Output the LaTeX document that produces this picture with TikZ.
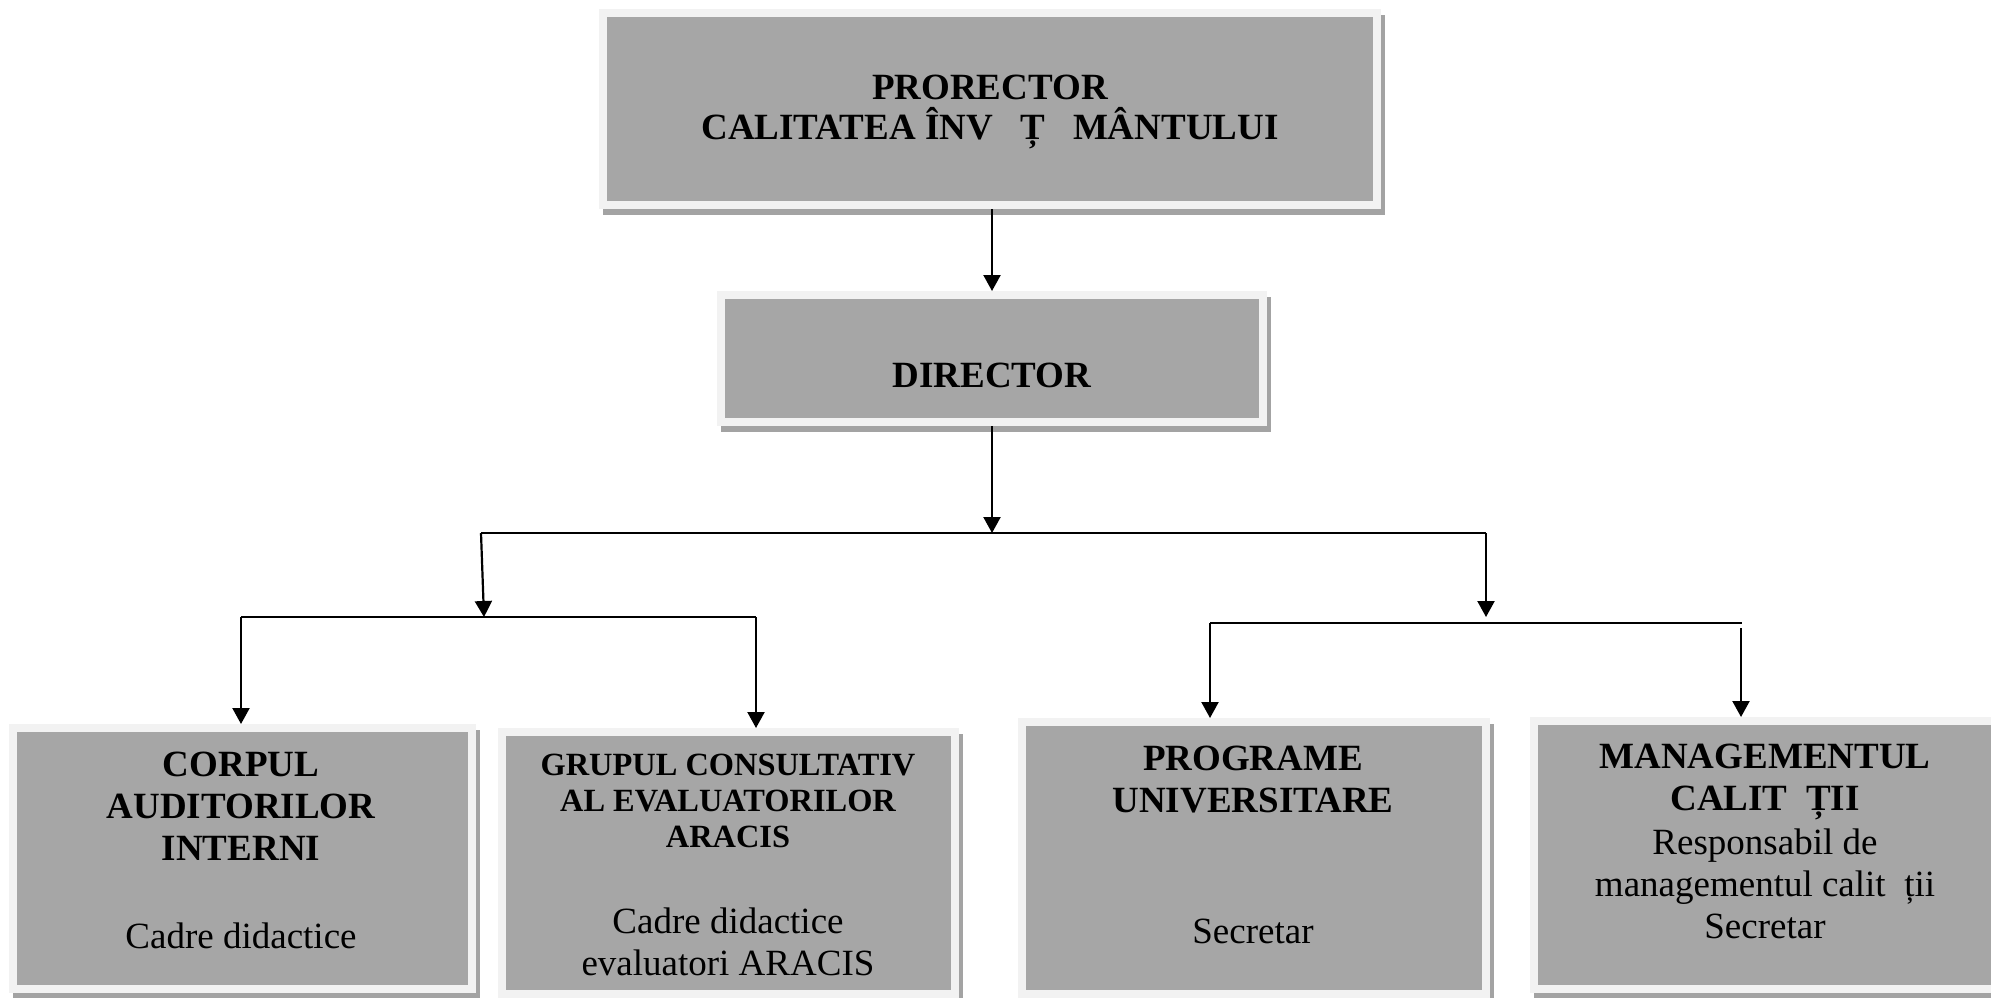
\documentclass[tikz,border=0pt]{standalone}
\usepackage{fontspec}
\setmainfont{Liberation Serif}
\usetikzlibrary{arrows.meta,shadows}

\definecolor{boxfill}{HTML}{A6A6A6}
\definecolor{boxframe}{HTML}{F2F2F2}
\definecolor{boxshade}{HTML}{A3A3A3}

\tikzset{
    unit/.style={rectangle, fill=boxfill, draw=boxframe, line width=4pt, inner sep=0pt,
        general shadow={fill=boxshade, draw=boxshade, line width=4pt, shadow xshift=2pt, shadow yshift=-3pt}},
    headtext/.style={font=\bfseries\fontsize{18.5}{21}\selectfont, align=center, inner sep=0pt},
    smallhead/.style={font=\bfseries\fontsize{16.2}{18}\selectfont, align=center, inner sep=0pt},
    bodytext/.style={font=\fontsize{18.5}{21}\selectfont, align=center, inner sep=0pt},
    link/.style={line width=1.1pt, -{Triangle[length=8pt,width=8.5pt]}},
    bar/.style={line width=1.1pt}
}

\begin{document}
\begin{tikzpicture}[x=0.5pt,y=0.5pt,yscale=-1,xscale=1]
    \useasboundingbox (0,0) rectangle (1991,997);
    \clip (0,0) rectangle (1991,997);

    % top of the chart
    \node[unit, minimum width=387pt, minimum height=96pt] (prorector) at (990,109) {};
    \node[headtext, font=\bfseries\fontsize{18.5}{20}\selectfont] (prorectortext) at (990,112) {PRORECTOR\\CALITATEA ÎNV\hspace{0.75em}Ț\hspace{0.75em}MÂNTULUI};

    \node[unit, minimum width=271pt, minimum height=63.5pt] (director) at (992,358.5) {};
    \node[headtext] (directortext) at (992,375) {DIRECTOR};

    % bottom row
    \node[unit, minimum width=229.5pt, minimum height=130.5pt] (corp) at (242.5,858.5) {};
    \node[headtext] (corphead) at (241,806) {CORPUL\\AUDITORILOR\\INTERNI};
    \node[bodytext] (corpbody) at (241,936) {Cadre didactice};

    \node[unit, minimum width=226.5pt, minimum height=131pt] (grup) at (728.5,863) {};
    \node[smallhead] (gruphead) at (728,801) {GRUPUL CONSULTATIV\\AL EVALUATORILOR\\ARACIS};
    \node[bodytext] (grupbody) at (728,942) {Cadre didactice\\evaluatori ARACIS};

    \node[unit, minimum width=232pt, minimum height=136pt] (prog) at (1254,858) {};
    \node[headtext] (proghead) at (1253,779.5) {PROGRAME\\UNIVERSITARE};
    \node[bodytext] (progbody) at (1253,931) {Secretar};

    \node[unit, minimum width=231pt, minimum height=134pt] (manag) at (1765,855) {};
    \node[headtext] (managhead) at (1765,781.5) {MANAGEMENTUL\\CALIT\enspace ȚII};
    \node[bodytext] (managbody) at (1765,884) {Responsabil de\\managementul calit\enspace ții\\Secretar};

    % connectors
    \coordinate (hub) at (992,533);
    \coordinate (hubleft) at (481,533);
    \coordinate (hubright) at (1486,533);
    \coordinate (leftjoin) at (484,617);
    \coordinate (rightjoin) at (1486,617);
    \coordinate (leftbarA) at (241,617);
    \coordinate (leftbarB) at (756,617);
    \coordinate (rightbarA) at (1210,623);
    \coordinate (rightbarB) at (1742,623);
    \coordinate (rightdrop) at (1741,628);

    \draw[link] (prorector.south -| director.north) -- (director.north);
    \draw[link] (director.south) -- (hub);
    \draw[bar] (hubleft) -- (hubright);
    \draw[link] (hubleft) -- (leftjoin);
    \draw[link] (hubright) -- (rightjoin);
    \draw[bar] (leftbarA) -- (leftbarB);
    \draw[bar] (rightbarA) -- (rightbarB);
    \draw[link] (leftbarA) -- (leftbarA |- corp.north);
    \draw[link] (leftbarB) -- (leftbarB |- grup.north);
    \draw[link] (rightbarA) -- (rightbarA |- prog.north);
    \draw[link] (rightdrop) -- (rightdrop |- manag.north);
\end{tikzpicture}
\end{document}
